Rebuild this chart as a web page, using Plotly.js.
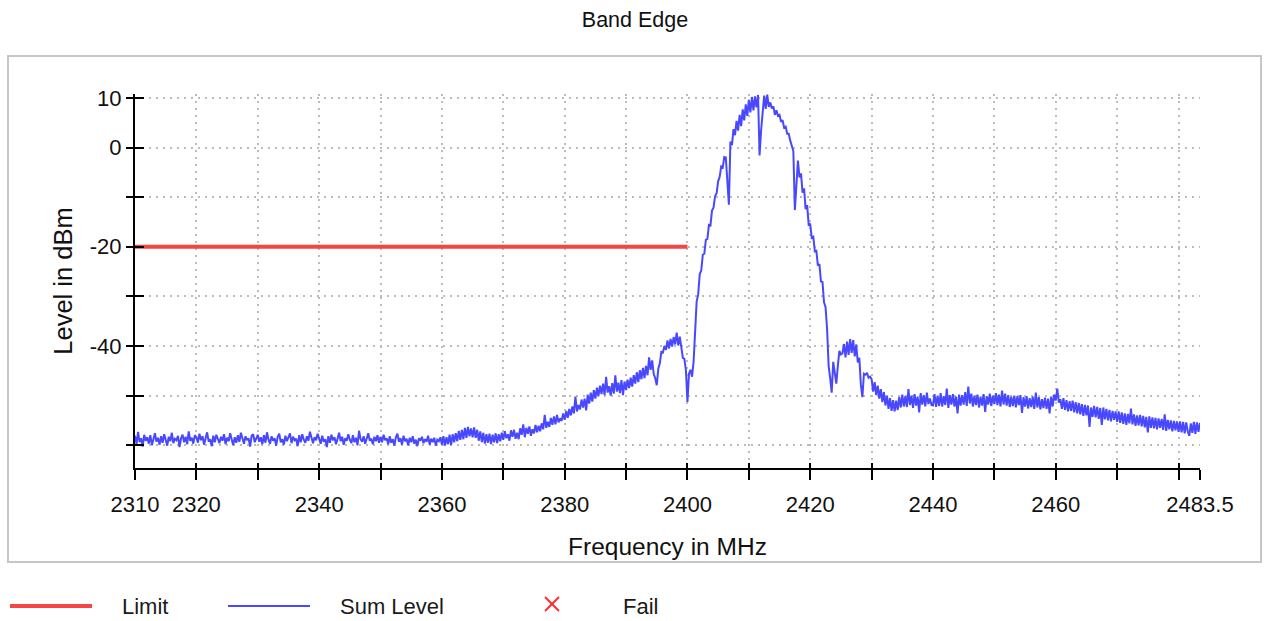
<!DOCTYPE html>
<html>
<head>
<meta charset="utf-8">
<script src="https://cdn.plot.ly/plotly-3.0.1.min.js"></script>
<style>html,body{margin:0;padding:0;background:#fff;}#chart{width:1270px;height:621px;}</style>
</head>
<body>
<div id="chart"></div>
<script>
// ---- data ----
const FREQ_START = 2310;      // MHz, first sample
const FREQ_STEP = 0.25;       // MHz between samples
const sumLevel = [
  // 2310 - 2319.75
  -58.1,-59.8,-57.3,-59.4,-58.6,-60.3,-57.9,-59.1,-58.4,-59.7,-58.0,-60.0,-58.8,-57.6,-59.3,-58.5,-59.9,-58.2,-59.5,-57.8,
  -58.9,-60.1,-58.3,-59.2,-57.5,-59.6,-58.7,-59.0,-58.1,-60.4,-58.6,-57.9,-59.4,-58.3,-59.8,-57.2,-59.1,-58.5,-59.7,-58.0,
  // 2320 - 2329.75
  -58.4,-59.5,-57.7,-59.0,-58.2,-59.9,-58.6,-57.4,-59.3,-58.8,-60.2,-58.1,-59.4,-57.9,-58.7,-59.6,-58.3,-59.1,-57.8,-59.8,
  -58.5,-59.2,-57.6,-58.9,-60.0,-58.4,-59.5,-58.0,-59.3,-57.5,-58.8,-59.7,-58.2,-59.0,-58.6,-60.3,-58.1,-57.8,-59.4,-58.7,
  // 2330 - 2339.75
  -57.9,-59.3,-58.4,-59.8,-58.0,-59.5,-57.4,-58.9,-59.7,-58.2,-59.1,-58.6,-60.1,-58.3,-57.7,-59.4,-58.8,-59.9,-58.1,-59.2,
  -58.5,-57.6,-59.6,-58.3,-59.0,-58.7,-60.2,-58.0,-59.4,-57.8,-58.9,-59.5,-58.2,-59.1,-57.3,-58.8,-59.6,-58.4,-59.0,-57.7,
  // 2340 - 2349.75
  -58.6,-59.7,-58.1,-59.3,-58.8,-60.4,-58.2,-59.5,-57.9,-59.0,-58.4,-59.8,-58.7,-57.5,-59.2,-58.3,-59.9,-58.6,-59.1,-57.8,
  -58.9,-59.6,-58.0,-59.4,-58.5,-60.0,-57.1,-58.8,-59.3,-58.2,-59.7,-58.4,-57.6,-59.1,-58.7,-59.8,-58.3,-59.2,-58.0,-59.5,
  // 2350 - 2359.75
  -58.3,-59.4,-57.9,-59.0,-58.6,-59.8,-58.2,-59.5,-58.8,-60.1,-58.4,-57.7,-59.3,-58.6,-59.9,-58.1,-59.2,-58.7,-60.0,-58.5,
  -59.4,-58.2,-59.7,-58.9,-60.2,-58.6,-59.1,-58.3,-59.6,-58.8,-59.3,-58.1,-59.9,-58.7,-59.4,-58.5,-60.1,-58.9,-59.2,-58.4,
  // 2360 - 2369.75
  -59.9,-58.2,-60.1,-58.4,-59.8,-57.9,-60.0,-57.8,-59.4,-57.6,-59.2,-57.1,-58.9,-56.9,-58.8,-56.5,-58.5,-56.3,-58.2,-56.6,
  -58.4,-56.4,-58.5,-56.9,-59.1,-57.2,-59.4,-57.5,-59.7,-57.8,-59.5,-57.7,-59.8,-57.9,-59.4,-57.6,-59.6,-57.8,-59.2,-57.5,
  // 2370 - 2379.75
  -58.9,-57.2,-58.6,-57.8,-59.1,-57.0,-58.3,-56.9,-58.7,-57.5,-58.8,-56.6,-57.9,-55.8,-58.4,-56.5,-57.7,-56.2,-58.1,-56.8,
  -57.6,-55.9,-57.4,-56.1,-57.2,-55.6,-56.8,-53.9,-56.5,-55.3,-56.3,-54.5,-55.9,-54.2,-55.8,-53.9,-55.4,-54.6,-55.1,-53.6,
  // 2380 - 2389.75
  -54.9,-53.1,-54.5,-52.7,-54.0,-52.2,-53.6,-50.2,-53.2,-51.9,-52.8,-50.8,-52.4,-50.6,-53.0,-49.8,-51.6,-49.4,-51.2,-48.9,
  -50.6,-48.4,-50.1,-48.0,-49.7,-47.6,-49.9,-46.2,-49.4,-48.1,-50.0,-47.5,-49.6,-45.9,-49.2,-47.4,-49.5,-46.9,-49.9,-47.2,
  // 2390 - 2399.75
  -48.9,-46.8,-48.5,-46.4,-48.2,-45.9,-47.6,-45.3,-47.3,-44.9,-46.7,-44.4,-46.5,-44.0,-45.9,-42.3,-44.8,-42.9,-45.6,-46.5,
  -47.9,-44.6,-43.5,-41.2,-41.3,-40.0,-40.8,-38.9,-40.5,-38.6,-40.1,-38.2,-39.7,-37.3,-39.9,-38.1,-40.6,-42.4,-42.6,-44.9,
  // 2400 - 2409.75
  -51.3,-45.6,-44.8,-46.2,-43.2,-38.2,-31.0,-29.6,-25.5,-24.8,-21.6,-21.4,-18.6,-18.4,-15.6,-15.7,-12.7,-12.1,-9.8,-9.2,
  -6.8,-5.9,-3.8,-4.0,-1.9,-2.0,-8.0,-11.5,1.2,0.5,3.7,2.5,5.4,3.4,6.6,4.3,7.7,5.5,8.7,6.4,
  // 2410 - 2419.75
  9.6,7.1,10.2,7.5,10.3,8.1,10.6,-1.6,3.5,7.9,10.5,7.8,10.7,8.2,9.1,7.9,8.3,6.6,7.5,6.4,
  6.6,5.2,5.5,4.0,4.2,2.8,2.8,1.4,0.3,-0.7,-12.6,-6.5,-2.6,-6.0,-5.2,-9.1,-8.2,-12.4,-11.6,-15.6,
  // 2420 - 2429.75
  -15.5,-18.2,-18.0,-20.9,-20.8,-23.8,-23.5,-27.0,-27.1,-31.2,-32.2,-36.6,-44.0,-46.5,-49.4,-43.2,-46.0,-47.6,-44.0,-41.0,
  -41.7,-41.5,-39.6,-42.3,-39.1,-41.8,-38.6,-41.4,-38.8,-42.1,-39.7,-43.3,-42.4,-47.8,-50.3,-45.6,-45.8,-45.4,-46.4,-46.2,
  // 2430 - 2439.75
  -46.7,-49.2,-47.3,-49.9,-48.0,-50.6,-48.7,-51.3,-49.3,-52.0,-50.0,-52.7,-50.5,-53.1,-50.9,-53.2,-51.0,-52.9,-50.3,-52.4,
  -49.8,-52.2,-50.1,-52.3,-48.7,-51.9,-50.0,-52.5,-49.7,-52.0,-50.2,-53.4,-49.5,-51.8,-49.9,-52.2,-49.4,-51.7,-50.6,-51.9,
  // 2440 - 2449.75
  -52.0,-49.7,-52.3,-50.0,-52.1,-49.5,-52.2,-50.1,-51.9,-48.6,-52.5,-49.9,-51.8,-49.7,-52.2,-50.2,-53.6,-49.8,-52.0,-49.9,
  -51.8,-49.3,-52.1,-48.2,-51.6,-49.6,-52.2,-50.0,-51.9,-49.8,-52.4,-50.2,-52.0,-49.7,-53.3,-50.1,-51.8,-49.6,-52.1,-50.0,
  // 2450 - 2459.75
  -51.7,-49.5,-51.9,-49.8,-52.2,-49.0,-51.8,-49.6,-52.0,-49.9,-52.3,-50.2,-52.1,-50.0,-52.4,-50.1,-51.9,-49.9,-53.5,-50.3,
  -52.2,-50.1,-52.6,-50.5,-52.3,-50.2,-52.7,-49.4,-52.4,-50.3,-52.8,-50.7,-52.5,-50.4,-52.7,-50.6,-53.6,-50.2,-52.2,-49.8,
  // 2460 - 2469.75
  -51.0,-48.6,-51.4,-50.7,-52.7,-50.5,-52.9,-50.9,-53.2,-51.1,-53.1,-51.0,-53.4,-51.3,-53.6,-51.5,-53.8,-51.7,-54.1,-51.9,
  -54.0,-52.0,-56.3,-52.4,-54.3,-52.1,-54.4,-52.3,-54.7,-52.5,-55.9,-52.4,-54.8,-52.7,-55.0,-52.9,-55.2,-53.1,-54.9,-53.2,
  // 2470 - 2479.75
  -55.3,-53.2,-55.5,-53.4,-55.7,-53.6,-55.9,-53.7,-55.6,-52.6,-55.8,-53.8,-56.1,-54.0,-56.0,-53.9,-56.2,-54.1,-56.4,-54.3,
  -57.4,-54.2,-56.5,-54.4,-56.6,-54.5,-56.8,-54.6,-56.5,-54.7,-56.9,-53.8,-57.1,-54.9,-56.8,-55.0,-57.2,-55.1,-57.0,-55.2,
  // 2480 - 2483.5
  -57.3,-55.2,-57.4,-55.3,-57.6,-55.4,-57.2,-58.1,-55.6,-57.5,-55.3,-57.7,-55.4,-57.3,-55.5
];
const limitFreq = [2310, 2400];
const limitLevel = [-20, -20];

const xTickVals = [2310,2320,2330,2340,2350,2360,2370,2380,2390,2400,2410,2420,2430,2440,2450,2460,2470,2480,2483.5];
const xTickText = ['2310','2320','','2340','','2360','','2380','','2400','','2420','','2440','','2460','','','2483.5'];
const yTickVals = [10,0,-10,-20,-30,-40,-50,-60];
const yTickText = ['10','0','','-20','','-40','',''];
const xRange = [2310, 2483.5];
const yRange = [-64.6, 10.8];

const legendNames = ['Limit', 'Sum Level', 'Fail'];

// ---- styles ----
const FONT = 'Liberation Sans, Arial, sans-serif';
const BLUE = '#4848ff';
const RED = '#f54545';
const GRID = '#bcbcbc';

const traces = [
  {
    type: 'scatter', mode: 'lines', name: legendNames[1],
    x0: FREQ_START, dx: FREQ_STEP, y: sumLevel,
    line: {color: BLUE, width: 2},
    xaxis: 'x', yaxis: 'y', showlegend: false, hoverinfo: 'x+y'
  },
  {
    type: 'scatter', mode: 'lines', name: legendNames[0],
    x: limitFreq, y: limitLevel,
    line: {color: RED, width: 4},
    xaxis: 'x2', yaxis: 'y2', showlegend: false
  }
];

// paper-coordinate helpers (plot area: x 135..1200, y 94..468)
const L = 135, R = 1200, T = 94, B = 468;
const px = v => (v - L) / (R - L);
const py = v => (B - v) / (B - T);

const legendY = 606;
const shapes = [
  // outer frame
  {type:'rect', xref:'paper', yref:'paper', x0:px(8), x1:px(1261), y0:py(562), y1:py(56),
   line:{color:'#c6c6c6', width:2}, fillcolor:'rgba(0,0,0,0)', layer:'below'},
  // legend: Limit
  {type:'line', xref:'paper', yref:'paper', x0:px(10), x1:px(92), y0:py(legendY), y1:py(legendY),
   line:{color:RED, width:4}},
  // legend: Sum Level
  {type:'line', xref:'paper', yref:'paper', x0:px(228), x1:px(310), y0:py(legendY), y1:py(legendY),
   line:{color:BLUE, width:2}},
  // legend: Fail cross
  {type:'line', xref:'paper', yref:'paper', x0:px(545), x1:px(559), y0:py(597), y1:py(611),
   line:{color:'#ff2a2a', width:2}},
  {type:'line', xref:'paper', yref:'paper', x0:px(545), x1:px(559), y0:py(611), y1:py(597),
   line:{color:'#ff2a2a', width:2}}
];

const legendFont = {family: FONT, size: 22, color: '#1a1a1a'};
const annotations = [
  {xref:'paper', yref:'paper', x:px(120), y:py(legendY), xanchor:'left', yanchor:'middle', text:legendNames[0], showarrow:false, font:legendFont},
  {xref:'paper', yref:'paper', x:px(338), y:py(legendY), xanchor:'left', yanchor:'middle', text:legendNames[1], showarrow:false, font:legendFont},
  {xref:'paper', yref:'paper', x:px(621), y:py(legendY), xanchor:'left', yanchor:'middle', text:legendNames[2], showarrow:false, font:legendFont}
];

const tickFont = {family: FONT, size: 22, color: '#111'};

const layout = {
  width: 1270, height: 621,
  margin: {l: L, r: 1270 - R, t: T, b: 621 - B, pad: 0},
  paper_bgcolor: '#ffffff', plot_bgcolor: '#ffffff',
  showlegend: false,
  font: {family: FONT, color: '#111'},
  title: {text: 'Band Edge', x: 0.5, xref: 'container', xanchor: 'center',
          y: 1 - 19/621, yref: 'container', yanchor: 'middle',
          font: {family: FONT, size: 21.5, color: '#111'}},
  xaxis: {
    range: xRange, type: 'linear', fixedrange: true,
    tickmode: 'array', tickvals: xTickVals, ticktext: xTickText,
    ticks: 'outside', ticklen: 10, tickwidth: 2, tickcolor: '#000',
    ticklabelstandoff: 6,
    showline: true, linecolor: '#000', linewidth: 2,
    showgrid: true, gridcolor: GRID, gridwidth: 2, griddash: '2px,5px',
    zeroline: false, tickfont: tickFont,
    title: {text: 'Frequency in MHz', font: {family: FONT, size: 24.5, color: '#111'}, standoff: 21},
    automargin: false
  },
  xaxis2: {
    range: xRange, overlaying: 'x', anchor: 'y', side: 'bottom', fixedrange: true,
    tickmode: 'array', tickvals: xTickVals, ticks: 'inside', ticklen: 5, tickwidth: 2, tickcolor: '#000',
    showticklabels: false, showline: false, showgrid: false, zeroline: false
  },
  yaxis: {
    range: yRange, type: 'linear', fixedrange: true,
    tickmode: 'array', tickvals: yTickVals, ticktext: yTickText,
    ticks: 'outside', ticklen: 7, tickwidth: 2, tickcolor: '#000',
    showline: true, linecolor: '#000', linewidth: 2,
    showgrid: true, gridcolor: GRID, gridwidth: 2, griddash: '2px,5px',
    zeroline: false, tickfont: tickFont,
    title: {text: 'Level in dBm', font: {family: FONT, size: 25.5, color: '#111'}, standoff: 10},
    automargin: false
  },
  yaxis2: {
    range: yRange, overlaying: 'y', anchor: 'x', side: 'left', fixedrange: true,
    tickmode: 'array', tickvals: yTickVals, ticks: 'inside', ticklen: 9, tickwidth: 2, tickcolor: '#000',
    showticklabels: false, showline: false, showgrid: false, zeroline: false
  },
  shapes: shapes,
  annotations: annotations
};

Plotly.newPlot('chart', traces, layout, {staticPlot: true, displayModeBar: false});
</script>
</body>
</html>
